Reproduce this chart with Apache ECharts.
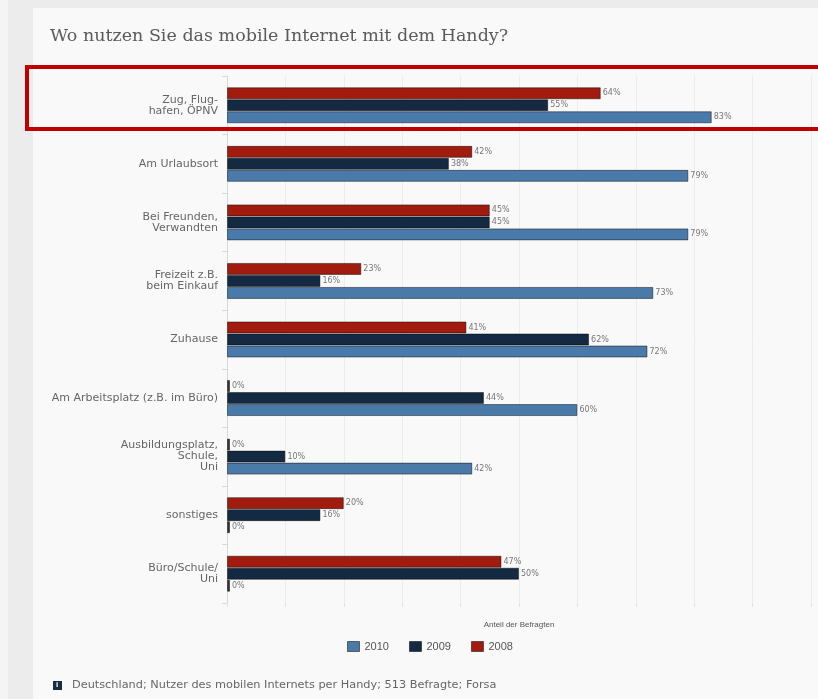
<!DOCTYPE html>
<html>
<head>
<meta charset="utf-8">
<script src="https://cdn.jsdelivr.net/npm/echarts@6/dist/echarts.min.js"></script>
<style>
  html, body { margin: 0; padding: 0; }
  #chart { width: 818px; height: 699px; }
</style>
</head>
<body>
<div id="chart"></div>
<script>
// Kategorien (von oben nach unten)
var categories = [
    'Zug, Flug-\nhafen, ÖPNV',
    'Am Urlaubsort',
    'Bei Freunden,\nVerwandten',
    'Freizeit z.B.\nbeim Einkauf',
    'Zuhause',
    'Am Arbeitsplatz (z.B. im Büro)',
    'Ausbildungsplatz,\nSchule,\nUni',
    'sonstiges',
    'Büro/Schule/\nUni'
];
// Anteil der Befragten in %
var values2008 = [64, 42, 45, 23, 41, 0, 0, 20, 47];
var values2009 = [55, 38, 45, 16, 62, 44, 10, 16, 50];
var values2010 = [83, 79, 79, 73, 72, 60, 42, 0, 0];
var legendNames = ['2010', '2009', '2008'];

var colors = { '2010': '#4a7aa9', '2009': '#132a42', '2008': '#a11b0e' };

function barData(list) {
    // 0%-Werte als kleiner dunkler Strich
    return list.map(function (v) {
        if (v === 0) return { value: 0, itemStyle: { color: '#333' } };
        return v;
    });
}

function makeSeries(name, list) {
    return {
        name: name,
        type: 'bar',
        data: barData(list),
        barWidth: 12,
        barGap: '0%',
        barMinHeight: 3,
        itemStyle: {
            color: colors[name],
            borderColor: 'rgba(0,0,0,0.45)',
            borderWidth: 1
        },
        label: {
            show: true,
            position: 'right',
            distance: 2,
            formatter: '{c}%',
            fontSize: 8,
            fontFamily: 'DejaVu Sans',
            color: '#777'
        }
    };
}

var myChart = echarts.init(document.getElementById('chart'));

var option = {
    backgroundColor: '#ececec',
    animation: false,
    textStyle: { fontFamily: 'DejaVu Sans' },
    graphic: [
        { type: 'rect', z: -10, shape: { x: 0, y: 0, width: 8, height: 699 }, style: { fill: '#f4f4f4' } },
        { type: 'rect', z: -10, shape: { x: 33, y: 8, width: 800, height: 700 }, style: { fill: '#f9f9f9' } },
        {
            type: 'text', left: 50, top: 27, z: 10,
            style: {
                text: 'Wo nutzen Sie das mobile Internet mit dem Handy?',
                font: '17.5px "DejaVu Serif"', fill: '#5a5a5a'
            }
        },
        {
            type: 'rect', z: 100,
            shape: { x: 27, y: 67, width: 810, height: 62 },
            style: { fill: null, stroke: '#c00000', lineWidth: 4 }
        },
        { type: 'rect', z: 10, shape: { x: 53, y: 681, width: 9, height: 9 }, style: { fill: '#1a2c44' } },
        {
            type: 'text', z: 11, left: 56, top: 681,
            style: { text: 'i', font: 'bold 8px "Liberation Sans"', fill: '#fff' }
        },
        {
            type: 'text', z: 10, left: 72, top: 680,
            style: {
                text: 'Deutschland; Nutzer des mobilen Internets per Handy; 513 Befragte; Forsa',
                font: '11.3px "DejaVu Sans"', fill: '#666'
            }
        }
    ],
    legend: {
        data: legendNames,
        left: 342,
        top: 636,
        icon: 'rect',
        itemWidth: 12,
        itemHeight: 10,
        itemGap: 20,
        textStyle: { fontSize: 11, color: '#555', fontFamily: 'Liberation Sans' },
        itemStyle: { borderColor: 'rgba(0,0,0,0.5)', borderWidth: 1 }
    },
    grid: {
        left: 227,
        right: 7,
        top: 76,
        bottom: 96,
        containLabel: false
    },
    xAxis: {
        type: 'value',
        min: 0,
        max: 100,
        interval: 10,
        name: 'Anteil der Befragten',
        nameLocation: 'middle',
        nameGap: 18,
        nameTextStyle: { fontSize: 8, color: '#555', fontFamily: 'Liberation Sans' },
        axisLabel: { show: false },
        axisLine: { show: false },
        axisTick: { show: true, length: 4, lineStyle: { color: '#e2e2e2' } },
        splitLine: { show: true, lineStyle: { color: '#ececec' } }
    },
    yAxis: {
        type: 'category',
        inverse: true,
        data: categories,
        axisLine: { show: true, lineStyle: { color: '#d8d8d8' } },
        axisTick: { show: true, length: 5, lineStyle: { color: '#d8d8d8' } },
        axisLabel: {
            fontSize: 11,
            lineHeight: 11,
            color: '#666',
            margin: 9
        }
    },
    series: [
        makeSeries('2008', values2008),
        makeSeries('2009', values2009),
        makeSeries('2010', values2010)
    ]
};

myChart.setOption(option);
</script>
</body>
</html>
